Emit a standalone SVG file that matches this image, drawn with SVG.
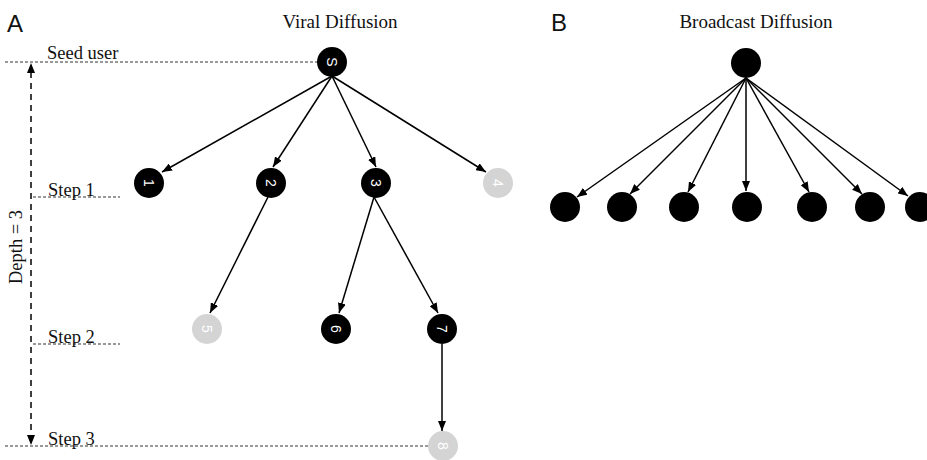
<svg xmlns="http://www.w3.org/2000/svg" width="927" height="460" viewBox="0 0 927 460">
<style>
.ser{font-family:"Liberation Serif",serif;font-size:18.5px;fill:#111}
.ttl{font-family:"Liberation Serif",serif;font-size:19px;fill:#111;text-anchor:middle}
.pl{font-family:"Liberation Sans",Arial,sans-serif;font-size:24px;fill:#111}
.nl{font-family:"Liberation Sans",Arial,sans-serif;font-size:14px;fill:#fff;text-anchor:middle;dominant-baseline:central}
.blk{fill:#000}
.gry{fill:#d4d4d4}
.edge{stroke:#000;stroke-width:1.5;fill:none;marker-end:url(#ah)}
.guide{stroke:#333;stroke-width:1;stroke-dasharray:3 2;fill:none}
.depth{stroke:#000;stroke-width:1.5;stroke-dasharray:6 5;fill:none}
</style>
<defs>
<marker id="ah" viewBox="0 0 10 8" refX="10" refY="4" markerWidth="10" markerHeight="8" markerUnits="userSpaceOnUse" orient="auto">
<path d="M0,0 L10,4 L0,8 Z" fill="#000"/>
</marker>
</defs>
<text class="pl" x="7" y="32">A</text>
<text class="ttl" x="340" y="28">Viral Diffusion</text>
<text class="pl" x="551" y="31">B</text>
<text class="ttl" x="756" y="28">Broadcast Diffusion</text>
<g id="guides">
<path class="guide" d="M5,62 H318 M33,197 H120 M33,344 H120 M5,446 H428"/>
<text class="ser" x="47" y="59">Seed user</text>
<text class="ser" x="48" y="196">Step 1</text>
<text class="ser" x="48" y="343">Step 2</text>
<text class="ser" x="48" y="445">Step 3</text>
<path class="depth" d="M31,72 V436"/>
<path d="M31,63 L27,73 L35,73 Z M31,445 L27,435 L35,435 Z" fill="#000"/>
<text class="ser" transform="translate(22,247) rotate(-90)" text-anchor="middle">Depth = 3</text>
</g>
<g id="connectors">
<path class="edge" d="M332,76 L162,172"/>
<path class="edge" d="M332,76 L273,167"/>
<path class="edge" d="M332,76 L376,167"/>
<path class="edge" d="M332,76 L486,172"/>
<path class="edge" d="M268,197 L210,313"/>
<path class="edge" d="M374,197 L339,313"/>
<path class="edge" d="M374,197 L438,313"/>
<path class="edge" d="M442,344 L442,431"/>
<path class="edge" d="M746,78 L577,197"/>
<path class="edge" d="M746,78 L630,194"/>
<path class="edge" d="M746,78 L688,192"/>
<path class="edge" d="M746,78 L746,191"/>
<path class="edge" d="M746,78 L809,192"/>
<path class="edge" d="M746,78 L862,194"/>
<path class="edge" d="M746,78 L908,196"/>
</g>
<g id="nS"><circle class="blk" cx="332" cy="62" r="15"/><text class="nl" transform="translate(332,62) rotate(90)">S</text></g>
<g id="n1"><circle class="blk" cx="149" cy="183" r="15"/><text class="nl" transform="translate(149,183) rotate(90)">1</text></g>
<g id="n2"><circle class="blk" cx="271" cy="183" r="15"/><text class="nl" transform="translate(271,183) rotate(90)">2</text></g>
<g id="n3"><circle class="blk" cx="376" cy="183" r="15"/><text class="nl" transform="translate(376,183) rotate(90)">3</text></g>
<g id="n4"><circle class="gry" cx="498" cy="183" r="15"/><text class="nl" transform="translate(498,183) rotate(90)">4</text></g>
<g id="n5"><circle class="gry" cx="207" cy="329" r="15"/><text class="nl" transform="translate(207,329) rotate(90)">5</text></g>
<g id="n6"><circle class="blk" cx="336" cy="329" r="15"/><text class="nl" transform="translate(336,329) rotate(90)">6</text></g>
<g id="n7"><circle class="blk" cx="442" cy="329" r="15"/><text class="nl" transform="translate(442,329) rotate(90)">7</text></g>
<g id="n8"><circle class="gry" cx="443" cy="446" r="15"/><text class="nl" transform="translate(443,446) rotate(90)">8</text></g>
<g id="bTop"><circle class="blk" cx="746" cy="63" r="15"/></g>
<g id="b1"><circle class="blk" cx="565" cy="207" r="15"/></g>
<g id="b2"><circle class="blk" cx="622" cy="207" r="15"/></g>
<g id="b3"><circle class="blk" cx="684" cy="207" r="15"/></g>
<g id="b4"><circle class="blk" cx="747" cy="207" r="15"/></g>
<g id="b5"><circle class="blk" cx="812" cy="207" r="15"/></g>
<g id="b6"><circle class="blk" cx="870" cy="207" r="15"/></g>
<g id="b7"><circle class="blk" cx="920" cy="207" r="15"/></g>
</svg>
